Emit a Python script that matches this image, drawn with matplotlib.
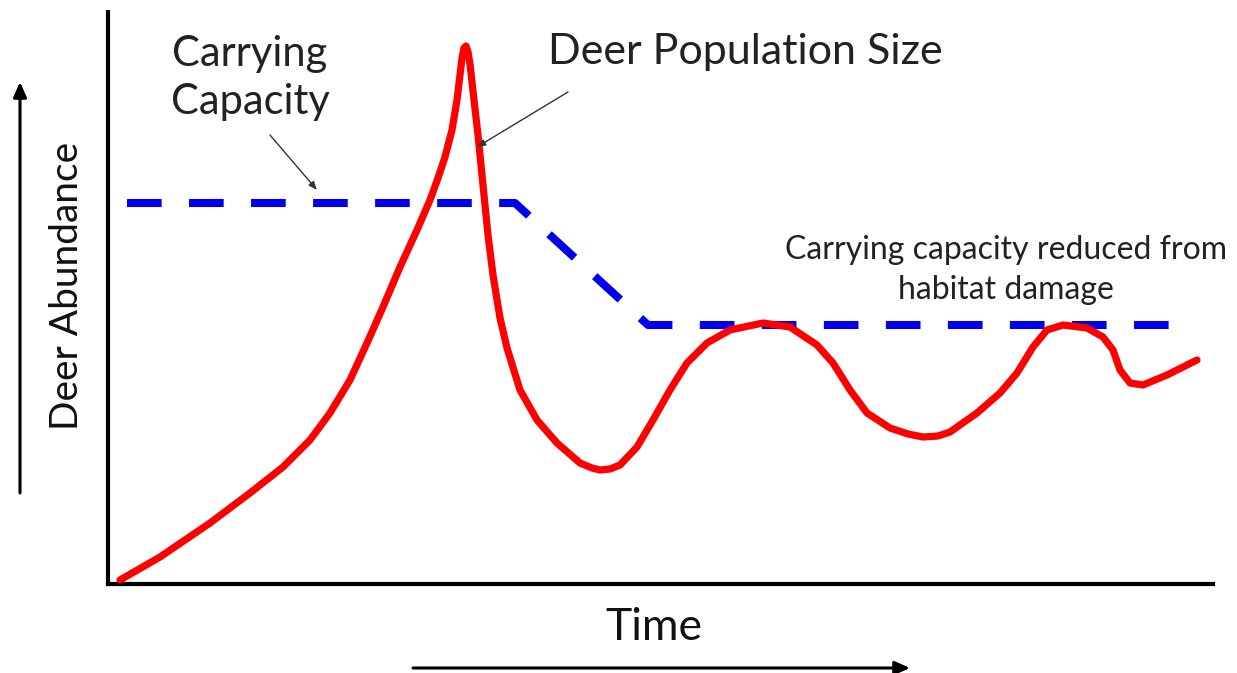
import matplotlib
matplotlib.use("Agg")
import matplotlib.pyplot as plt

plt.rcParams['font.family'] = ['Lato', 'DejaVu Sans']

# Deer population size over time (arbitrary units)
time = [12, 52, 102, 142, 175, 202, 222, 242, 259, 275, 292, 309, 322, 330, 337, 344, 349, 352,
        354, 356, 358, 360, 362, 366, 370, 374, 380, 385, 392, 399, 412, 429, 449, 472, 484, 492,
        502, 512, 529, 545, 562, 579, 599, 622, 655, 682, 709, 725, 742, 759, 782, 800, 815, 830,
        842, 869, 892, 909, 925, 939, 955, 979, 995, 1005, 1012, 1022, 1035, 1059, 1089]
population = [4, 27, 61, 91, 117, 144, 171, 204, 241, 277, 317, 354, 384, 406, 427, 454, 484, 509,
              526, 536, 538, 532, 520, 484, 449, 409, 349, 309, 266, 236, 194, 164, 141, 121, 116, 114,
              115, 119, 137, 164, 194, 221, 241, 254, 261, 257, 239, 221, 194, 171, 156, 150, 147, 148,
              152, 171, 191, 211, 237, 254, 259, 256, 247, 234, 214, 201, 199, 209, 224]

# Carrying capacity (dashed line)
cc_time = [19, 407, 540, 1082]
cc_value = [381, 381, 259, 259]

fig = plt.figure(figsize=(12.37, 6.73), dpi=100)
W, H = 1237, 673
x0, y0, x1, y1 = 108, 584, 1213, 12
ax = fig.add_axes([x0 / W, (H - y0) / H, (x1 - x0) / W, (y0 - y1) / H])
ax.set_xlim(0, x1 - x0)
ax.set_ylim(0, y0 - y1)

for s in ['top', 'right']:
    ax.spines[s].set_visible(False)
for s in ['left', 'bottom']:
    ax.spines[s].set_linewidth(3.0)
    ax.spines[s].set_color('black')
ax.set_xticks([])
ax.set_yticks([])

ax.plot(cc_time, cc_value, color='#0000ee', lw=5.8, linestyle=(0, (4.3, 3.4)),
        solid_capstyle='butt', dash_capstyle='butt')
ax.plot(time, population, color='#ff0000', lw=5.2, solid_joinstyle='round',
        solid_capstyle='round', zorder=3)

ax.text(142, 506, 'Carrying\nCapacity', ha='center', va='center', fontsize=30,
        color='#222222', linespacing=1.32)
ax.text(637, 532, 'Deer Population Size', ha='center', va='center', fontsize=31,
        color='#222222')
ax.text(898, 314, 'Carrying capacity reduced from\nhabitat damage', ha='center',
        va='center', fontsize=23, color='#222222', linespacing=1.38)

thin = dict(arrowstyle='-|>,head_length=0.5,head_width=0.2', color='#333333', lw=1.0,
            shrinkA=0, shrinkB=0)
ax.annotate('', xy=(209, 394), xytext=(162, 449), arrowprops=thin)
ax.annotate('', xy=(369, 437), xytext=(460, 492), arrowprops=thin)

ax.text(-41, 298, 'Deer Abundance', rotation=90, ha='center', va='center',
        fontsize=28, color='#111111')
ax.text(546, -44, 'Time', ha='center', va='center', fontsize=32, color='#111111')

thick = dict(arrowstyle='-|>,head_length=0.9,head_width=0.4', color='black', lw=2.2,
             shrinkA=0, shrinkB=0)
ax.annotate('', xy=(-88, 502), xytext=(-88, 91), arrowprops=thick, annotation_clip=False)
ax.annotate('', xy=(802, -84), xytext=(305, -84), arrowprops=thick, annotation_clip=False)

fig.savefig('out.png', dpi=100)
